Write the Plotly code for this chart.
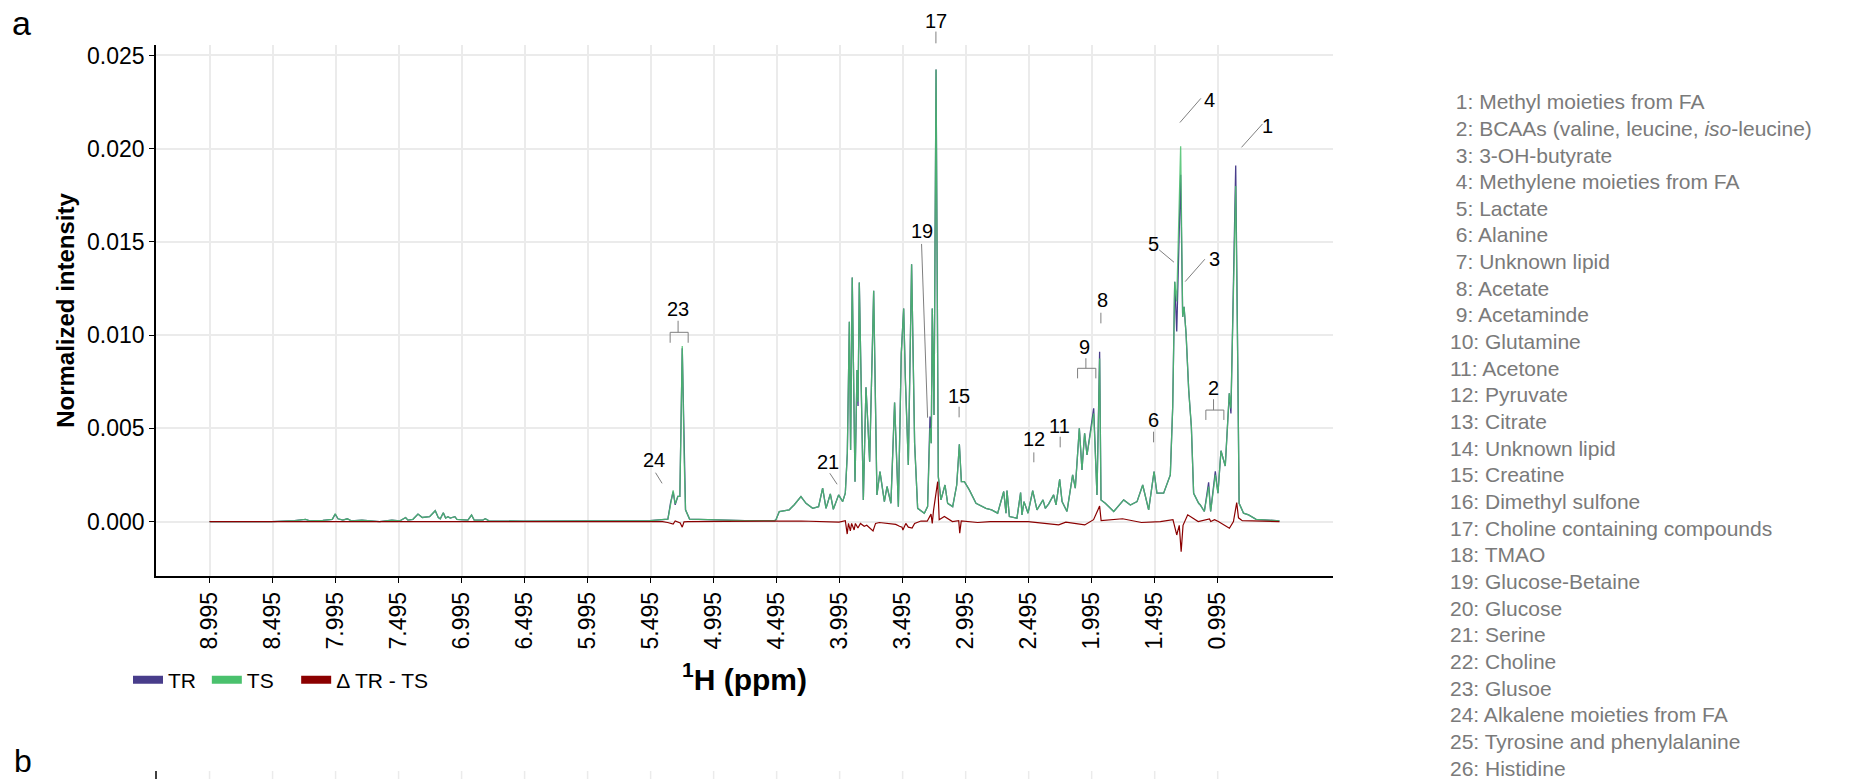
import plotly.graph_objects as go

# ---------------- data ----------------
ppm = [8.995, 8.50, 8.32, 8.233, 8.201, 8.096, 8.021, 7.998, 7.976, 7.937,
       7.902, 7.871, 7.786, 7.738, 7.646, 7.548, 7.487, 7.439, 7.421, 7.381,
       7.341, 7.307, 7.249, 7.204, 7.18, 7.164, 7.14, 7.122, 7.103, 7.085,
       7.048, 7.032, 6.945, 6.916, 6.895, 6.826, 6.807, 6.778, 6.50, 6.00,
       5.50, 5.358, 5.337, 5.316, 5.30, 5.279, 5.263, 5.244, 5.228, 5.218,
       5.186, 4.75, 4.51, 4.50, 4.474, 4.395, 4.355, 4.302, 4.262, 4.209,
       4.162, 4.13, 4.103, 4.069, 4.045, 4.003, 3.971, 3.95, 3.934, 3.918,
       3.908, 3.895, 3.873, 3.857, 3.849, 3.839, 3.807, 3.786, 3.77, 3.757,
       3.725, 3.699, 3.675, 3.64, 3.619, 3.588, 3.559, 3.545, 3.529, 3.506,
       3.487, 3.474, 3.45, 3.424, 3.40, 3.376, 3.323, 3.297, 3.278, 3.268,
       3.26, 3.246, 3.23, 3.212, 3.191, 3.159, 3.138, 3.098, 3.066, 3.045,
       3.029, 3.005, 2.966, 2.913, 2.834, 2.789, 2.741, 2.693, 2.675, 2.667,
       2.648, 2.588, 2.559, 2.548, 2.532, 2.50, 2.463, 2.429, 2.381, 2.363,
       2.336, 2.297, 2.278, 2.249, 2.23, 2.191, 2.146, 2.125, 2.093, 2.072,
       2.051, 2.032, 1.979, 1.953, 1.932, 1.921, 1.887, 1.82, 1.741, 1.688,
       1.635, 1.59, 1.543, 1.50, 1.477, 1.424, 1.371, 1.352, 1.336, 1.32,
       1.289, 1.273, 1.262, 1.246, 1.225, 1.204, 1.186, 1.146, 1.133, 1.101,
       1.067, 1.051, 1.014, 0.993, 0.969, 0.935, 0.903, 0.89, 0.852, 0.835,
       0.825, 0.79, 0.75, 0.69, 0.505]

ts = [0.0, 0.0, 0.00005, 0.00012, 0.00004, 0.00006, 0.00012, 0.00042, 0.00015, 0.00008,
      0.00015, 0.00004, 0.00008, 0.00006, 0.0, 0.00008, 0.00003, 0.00022, 0.00008, 0.00012,
      0.0004, 0.00022, 0.00026, 0.00058, 0.00022, 0.00015, 0.00047, 0.00019, 0.00026, 0.00019,
      0.00026, 0.00012, 0.00008, 0.00035, 0.00008, 0.00008, 0.00015, 0.00004, 0.00002, 0.00004,
      0.00005, 0.00013, 0.001, 0.00167, 0.00095, 0.00135, 0.00135, 0.00942, 0.00314, 0.00063,
      0.00013, 0.00005, 0.00005, 0.0001, 0.00054, 0.00063, 0.0009, 0.00134, 0.00098, 0.00071,
      0.0008, 0.00179, 0.00071, 0.00148, 0.00066, 0.00143, 0.00107, 0.00152, 0.00366, 0.01072,
      0.00384, 0.01309, 0.00214, 0.00813, 0.00643, 0.01282, 0.00116, 0.0072, 0.00509, 0.00321,
      0.01238, 0.00143, 0.00268, 0.00107, 0.00188, 0.00098, 0.00638, 0.0042, 0.0008, 0.00902,
      0.01143, 0.00768, 0.00304, 0.0138, 0.0042, 0.00071, 0.00045, 0.0008, 0.005, 0.0042,
      0.01143, 0.00572, 0.02424, 0.00241, 0.00116, 0.00196, 0.00098, 0.0008, 0.00196, 0.00414,
      0.00214, 0.00214, 0.0017, 0.00098, 0.00071, 0.00063, 0.00045, 0.00161, 0.00045, 0.00166,
      0.00027, 0.00018, 0.00155, 0.00036, 0.00107, 0.00045, 0.00166, 0.00063, 0.00116, 0.00071,
      0.00095, 0.00143, 0.00089, 0.00227, 0.00107, 0.00054, 0.0025, 0.00179, 0.005, 0.00277,
      0.00473, 0.00357, 0.0058, 0.00143, 0.00875, 0.00116, 0.00098, 0.00054, 0.00116, 0.00089,
      0.00107, 0.00196, 0.00063, 0.00268, 0.00152, 0.00152, 0.0025, 0.00616, 0.01286, 0.0118,
      0.02013, 0.01098, 0.01152, 0.01009, 0.00705, 0.00509, 0.00152, 0.00098, 0.00089, 0.00054,
      0.00188, 0.00054, 0.0025, 0.00152, 0.0038, 0.00298, 0.00688, 0.00607, 0.0180, 0.00795,
      0.00098, 0.00045, 0.00036, 0.00012, 0.00004]

# TR equals TS except where the purple trace shows
tr_different = {7.998: 0.0004, 5.316: 0.0016, 5.30: 0.0009, 5.244: 0.0093,
                3.849: 0.0062, 3.474: 0.0078, 3.278: 0.00563, 1.979: 0.00607,
                1.932: 0.00911, 1.32: 0.0102, 1.289: 0.0186, 1.067: 0.0021,
                1.014: 0.0027, 0.89: 0.0058, 0.852: 0.0191}
tr = [tr_different.get(p, v) for p, v in zip(ppm, ts)]

diff_ppm = [8.995, 6.8, 6.6, 5.40, 5.36, 5.316, 5.30, 5.26, 5.244, 5.23,
            5.2, 4.5, 4.3, 4.0, 3.95, 3.935, 3.925, 3.91, 3.90, 3.88,
            3.87, 3.85, 3.83, 3.80, 3.78, 3.73, 3.71, 3.68, 3.62, 3.55,
            3.52, 3.50, 3.493, 3.47, 3.45, 3.42, 3.40, 3.35, 3.30, 3.27,
            3.26, 3.25, 3.217, 3.205, 3.164, 3.10, 3.05, 3.042, 3.03, 2.9,
            2.80, 2.5, 2.257, 2.2, 2.05, 1.98, 1.932, 1.92, 1.75, 1.6,
            1.45, 1.35, 1.32, 1.30, 1.285, 1.27, 1.233, 1.21, 1.15, 1.06,
            1.05, 1.02, 0.99, 0.902, 0.87, 0.844, 0.83, 0.80, 0.505]
diff = [0.0, 0.0, -0.00003, 0.0, -0.00005, -0.00013, 0.00003, -0.00008, -0.0003, -0.00002,
        0.0, 0.0, 0.00003, -0.00003, 0.00005, -0.00067, -0.0001, -0.0005, -0.0001, -0.00045,
        -0.0001, -0.00035, -0.0001, -0.00025, -0.0002, -0.0005, -0.0001, -0.00005, -0.0001, -0.00015,
        -0.00025, -0.0003, -0.00045, -0.0001, -0.0003, -0.00035, -0.0001, 0.00003, 0.00002, 0.0004,
        -0.0001, 0.0006, 0.00214, 0.0001, 0.00027, 0.0, 0.00005, -0.00062, 0.00003, -0.00005,
        0.0, 0.0, -0.00018, -0.00003, -0.00018, 0.0001, 0.00083, 0.00005, 0.00015, -0.00005,
        0.0, 0.0001, -0.00072, -0.0002, -0.00162, -0.0002, 0.00036, 0.00025, 0.0, 0.00014,
        0.0, 0.0001, 0.0, -0.00036, 0.0, 0.00102, 0.0002, 0.00005, 0.0]

x_tick_vals = [8.995, 8.495, 7.995, 7.495, 6.995, 6.495, 5.995, 5.495, 4.995,
               4.495, 3.995, 3.495, 2.995, 2.495, 1.995, 1.495, 0.995]
x_tick_text = ["%.3f" % v for v in x_tick_vals]
y_tick_vals = [0.0, 0.005, 0.010, 0.015, 0.020, 0.025]
y_tick_text = ["0.000", "0.005", "0.010", "0.015", "0.020", "0.025"]

series_names = ["TR", "TS", "Δ TR - TS"]

# peak labels
label_text = ["17", "4", "1", "19", "5", "3", "8", "9", "23", "15", "2", "6", "11", "12", "21", "24"]
label_ppm = [3.234, 1.063, 0.602, 3.340, 1.507, 1.023, 1.912, 2.049, 5.277, 3.047,
             1.031, 1.504, 2.248, 2.451, 4.086, 5.467]
label_val = [0.02687, 0.02261, 0.02122, 0.01558, 0.01489, 0.01408, 0.01188, 0.00935, 0.01138, 0.00675,
             0.00715, 0.00545, 0.00514, 0.00443, 0.00321, 0.0033]
# leader lines: (ppm0, val0, ppm1, val1)
leaders = [(3.231, 0.02628, 3.231, 0.02565), (1.295, 0.0214, 1.128, 0.0227),
           (0.806, 0.02007, 0.639, 0.02133), (3.345, 0.01489, 3.297, 0.00557),
           (1.459, 0.01457, 1.342, 0.01391), (1.097, 0.01407, 1.253, 0.01287),
           (1.922, 0.0112, 1.922, 0.01063), (1.504, 0.00482, 1.504, 0.00425),
           (2.245, 0.00455, 2.245, 0.00398), (2.454, 0.00371, 2.454, 0.00318),
           (3.047, 0.00616, 3.047, 0.00559), (4.073, 0.00259, 4.015, 0.002),
           (5.456, 0.00262, 5.404, 0.00205)]
# brackets: (stem ppm, left ppm, right ppm, stem top, bar, tips)
brackets = [(2.041, 2.107, 1.962, 0.00876, 0.00822, 0.00768),
            (1.028, 1.089, 0.946, 0.00656, 0.00598, 0.00545),
            (5.277, 5.340, 5.197, 0.01077, 0.01015, 0.00959)]

assignments = [
    "1: Methyl moieties from FA", "2: BCAAs (valine, leucine, <i>iso</i>-leucine)",
    "3: 3-OH-butyrate", "4: Methylene moieties from FA", "5: Lactate", "6: Alanine",
    "7: Unknown lipid", "8: Acetate", "9: Acetaminde", "10: Glutamine", "11: Acetone",
    "12: Pyruvate", "13: Citrate", "14: Unknown lipid", "15: Creatine",
    "16: Dimethyl sulfone", "17: Choline containing compounds", "18: TMAO",
    "19: Glucose-Betaine", "20: Glucose", "21: Serine", "22: Choline", "23: Glusoe",
    "24: Alkalene moieties from FA", "25: Tyrosine and phenylalanine", "26: Histidine"]

# ---------------- layout constants ----------------
W, H = 1850, 779
L, R, T, B = 156, 1333, 45, 576
X_MAX, X_MIN = 9.42, 0.08
Y_MIN, Y_MAX = -0.00292, 0.02556
FONT = "Liberation Sans, Arial, Helvetica, sans-serif"
C_TR, C_TS, C_D = "#483D8B", "#4AC16D", "#8B0000"
GREY = "#7F7F7F"
NBSP = "\u00a0"


def px(p):
    return (X_MAX - p) / (X_MAX - X_MIN)


def py(v):
    return (v - Y_MIN) / (Y_MAX - Y_MIN)


def pix_x(x):
    return (x - L) / (R - L)


def pix_y(y):
    return (B - y) / (B - T)


fig = go.Figure()
fig.add_trace(go.Scatter(x=ppm, y=tr, mode="lines", line=dict(color=C_TR, width=1.3),
                         showlegend=False, name=series_names[0]))
fig.add_trace(go.Scatter(x=ppm, y=ts, mode="lines", line=dict(color=C_TS, width=1.3),
                         opacity=0.85, showlegend=False, name=series_names[1]))
fig.add_trace(go.Scatter(x=diff_ppm, y=diff, mode="lines", line=dict(color=C_D, width=1.2),
                         showlegend=False, name=series_names[2]))
# legend keys (thick swatches); padding keeps ggplot-like spacing between entries
legend_pad = [1, 3, 0]
for name, col, pad in zip(series_names, [C_TR, C_TS, C_D], legend_pad):
    fig.add_trace(go.Scatter(x=[None], y=[None], mode="lines", name=name + NBSP * pad,
                             line=dict(color=col, width=8)))

shapes = []
for (p0, v0, p1, v1) in leaders:
    shapes.append(dict(type="line", xref="paper", yref="paper", x0=px(p0), y0=py(v0),
                       x1=px(p1), y1=py(v1), line=dict(color=GREY, width=1)))
for (ps, pl, pr, vt, vb, vtip) in brackets:
    shapes.append(dict(type="line", xref="paper", yref="paper", x0=px(ps), y0=py(vt),
                       x1=px(ps), y1=py(vb), line=dict(color=GREY, width=1)))
    shapes.append(dict(type="path", xref="paper", yref="paper",
                       path="M %f %f L %f %f L %f %f L %f %f" % (
                           px(pl), py(vtip), px(pl), py(vb), px(pr), py(vb), px(pr), py(vtip)),
                       line=dict(color=GREY, width=1)))
# beginning of panel b at bottom edge
for v in x_tick_vals:
    shapes.append(dict(type="line", xref="paper", yref="paper", x0=px(v), x1=px(v),
                       y0=pix_y(771), y1=pix_y(780), line=dict(color="#EBEBEB", width=1.5)))
shapes.append(dict(type="line", xref="paper", yref="paper", x0=0, x1=0,
                   y0=pix_y(771), y1=pix_y(780), line=dict(color="black", width=1.5)))

annotations = []
for t, p, v in zip(label_text, label_ppm, label_val):
    annotations.append(dict(text=t, xref="paper", yref="paper", x=px(p), y=py(v),
                            showarrow=False, xanchor="center", yanchor="middle",
                            font=dict(family=FONT, size=20, color="black")))
for i, s in enumerate(assignments):
    num = s.split(":")[0]
    txt = (NBSP + s) if len(num) == 1 else s
    annotations.append(dict(text=txt, xref="paper", yref="paper", x=pix_x(1448),
                            y=pix_y(101.7 + i * 26.66), showarrow=False, xanchor="left",
                            yanchor="middle", font=dict(family=FONT, size=21, color="#7A7A7A")))
annotations.append(dict(text="a", xref="paper", yref="paper", x=pix_x(10), y=pix_y(23),
                        showarrow=False, xanchor="left", yanchor="middle",
                        font=dict(family=FONT, size=34, color="black")))
annotations.append(dict(text="b", xref="paper", yref="paper", x=pix_x(12), y=pix_y(781),
                        showarrow=False, xanchor="left", yanchor="bottom",
                        font=dict(family=FONT, size=32, color="black")))

fig.update_layout(
    width=W, height=H, autosize=False,
    margin=dict(l=L, r=W - R, t=T, b=H - B, pad=0),
    paper_bgcolor="white", plot_bgcolor="white",
    font=dict(family=FONT, color="black"),
    shapes=shapes, annotations=annotations,
    legend=dict(orientation="h", x=pix_x(128), y=pix_y(680), xanchor="left", yanchor="middle",
                font=dict(family=FONT, size=21, color="black"), bgcolor="rgba(0,0,0,0)",
                itemwidth=30, tracegroupgap=0),
    xaxis=dict(range=[X_MAX, X_MIN], tickmode="array", tickvals=x_tick_vals, ticktext=x_tick_text,
               tickangle=-90, tickfont=dict(family=FONT, size=23, color="black"),
               showgrid=True, gridcolor="#EBEBEB", gridwidth=1.5, zeroline=False,
               showline=True, linecolor="black", linewidth=1.5,
               ticks="outside", ticklen=5, tickcolor="black", tickwidth=1.2,
               title=dict(text="<b><sup>1</sup>H (ppm)</b>", font=dict(family=FONT, size=30),
                          standoff=20)),
    yaxis=dict(range=[Y_MIN, Y_MAX], tickmode="array", tickvals=y_tick_vals, ticktext=y_tick_text,
               tickfont=dict(family=FONT, size=23, color="black"),
               showgrid=True, gridcolor="#EBEBEB", gridwidth=1.5, zeroline=False,
               showline=True, linecolor="black", linewidth=1.5,
               ticks="outside", ticklen=5, tickcolor="black", tickwidth=1.2,
               title=dict(text="<b>Normalized intensity</b>", font=dict(family=FONT, size=24),
                          standoff=6)),
)

fig.write_html("out.html")
